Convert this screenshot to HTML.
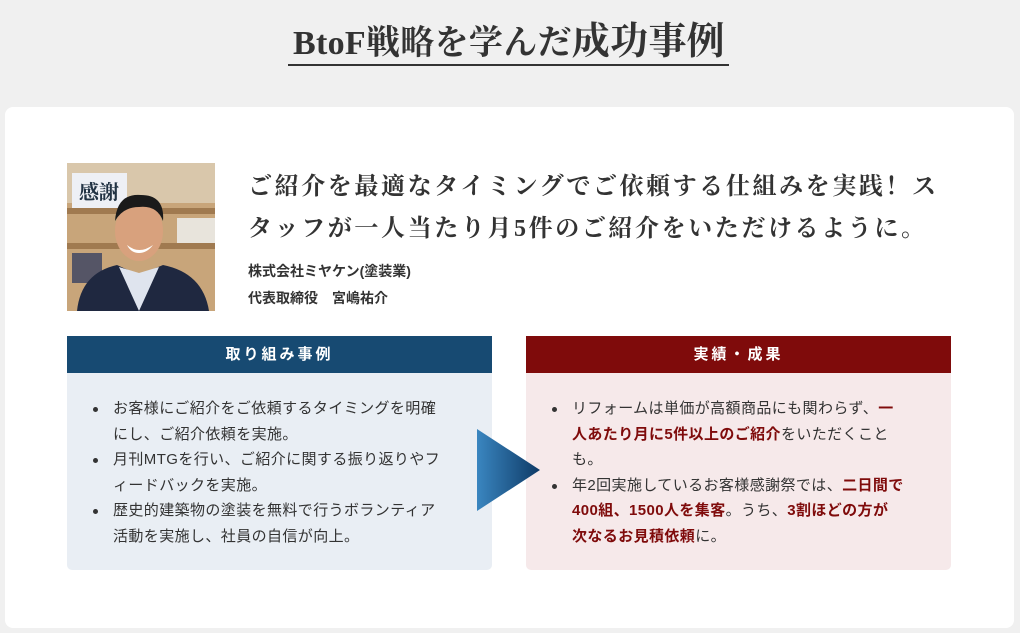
<!DOCTYPE html>
<html><head><meta charset="utf-8"><style>
*{margin:0;padding:0;box-sizing:border-box}
body{width:1020px;height:633px;background:#f0f0f0;position:relative;overflow:hidden;font-family:"Liberation Sans","Noto Sans CJK JP",sans-serif;color:#333}
.title{position:absolute;left:259px;top:10px;width:500px;text-align:center;font-family:"Liberation Serif","Noto Serif CJK SC",serif;font-weight:bold;font-size:34px;color:#333;white-space:nowrap;letter-spacing:0.3px}
.title .big{font-size:38px}
.uline{position:absolute;left:288px;top:64px;width:441px;height:2px;background:#333}
.card{position:absolute;left:5px;top:107px;width:1009px;height:521px;background:#fff;border-radius:8px}
.photo{position:absolute;left:67px;top:163px;width:148px;height:148px;overflow:hidden;background:#c9a77a}
.h{position:absolute;left:248px;top:166px;font-family:"Liberation Serif","Noto Serif CJK SC",serif;font-weight:bold;font-size:24px;line-height:42px;color:#333;white-space:nowrap;letter-spacing:2.6px}
.co{position:absolute;left:248px;top:258px;font-weight:bold;font-size:14px;line-height:27px;color:#333;white-space:nowrap}
.box{position:absolute;top:336px;width:425px;height:234px;border-radius:0 0 5px 5px}
.box .hd{height:37px;line-height:37px;text-align:center;color:#fff;font-weight:bold;font-size:15px;letter-spacing:3px}
.box ul{list-style:none;padding:23px 0 0 46px;font-size:15px;line-height:25.6px;color:#333;letter-spacing:0.4px}
.box li{position:relative;width:342px}
.box li:before{content:"";position:absolute;left:-20px;top:11px;width:5px;height:5px;border-radius:50%;background:#333}
.r{color:#7f0b0b;font-weight:bold}
</style></head><body>
<div class="title">BtoF戦略を学んだ<span class="big">成功事例</span></div>
<div class="uline"></div>
<div class="card"></div>
<div class="photo">
<svg width="148" height="148" viewBox="0 0 148 148">
<rect width="148" height="148" fill="#c8a57a"/>
<rect x="0" y="0" width="148" height="40" fill="#d9c7ab"/>
<rect x="5" y="10" width="55" height="35" fill="#eef0f5"/>
<text x="12" y="36" font-size="20" font-weight="bold" fill="#234" font-family="Noto Serif CJK SC,serif">感謝</text>
<rect x="0" y="45" width="148" height="6" fill="#a07a50"/>
<rect x="0" y="80" width="148" height="6" fill="#a07a50"/>
<rect x="110" y="55" width="38" height="25" fill="#e8e4dc"/>
<rect x="5" y="90" width="30" height="30" fill="#556"/>
<ellipse cx="72" cy="68" rx="24" ry="30" fill="#d8a17d"/>
<path d="M48 58 Q50 30 74 32 Q98 32 96 58 Q90 42 72 44 Q56 44 48 58Z" fill="#1a1a1a"/>
<path d="M60 82 Q72 92 86 82 Q80 90 72 90 Q64 90 60 82Z" fill="#fff"/>
<path d="M10 148 Q14 110 50 102 L72 112 L96 102 Q136 110 142 148Z" fill="#1f2840"/>
<path d="M52 104 L72 148 L92 104 L72 110Z" fill="#dfe4ee"/>
</svg></div>
<div class="h">ご紹介を最適なタイミングでご依頼する仕組みを実践！ス<br>タッフが一人当たり月5件のご紹介をいただけるように。</div>
<div class="co">株式会社ミヤケン(塗装業)<br>代表取締役　宮嶋祐介</div>
<div class="box" style="left:67px;background:#e9eef4">
<div class="hd" style="background:#174a72">取り組み事例</div>
<ul><li>お客様にご紹介をご依頼するタイミングを明確<br>にし、ご紹介依頼を実施。</li><li>月刊MTGを行い、ご紹介に関する振り返りやフ<br>ィードバックを実施。</li><li>歴史的建築物の塗装を無料で行うボランティア<br>活動を実施し、社員の自信が向上。</li></ul>
</div>
<div class="box" style="left:526px;background:#f6e9ea">
<div class="hd" style="background:#7f0b0b">実績・成果</div>
<ul><li>リフォームは単価が高額商品にも関わらず、<span class="r">一<br>人あたり月に5件以上のご紹介</span>をいただくこと<br>も。</li><li>年2回実施しているお客様感謝祭では、<span class="r">二日間で<br>400組、1500人を集客</span>。うち、<span class="r">3割ほどの方が<br>次なるお見積依頼</span>に。</li></ul>
</div>
<svg style="position:absolute;left:477px;top:429px" width="64" height="82"><defs><linearGradient id="g" x1="0" x2="1"><stop offset="0" stop-color="#3a86c0"/><stop offset="1" stop-color="#0e3a66"/></linearGradient></defs><polygon points="0,0 63,41 0,82" fill="url(#g)"/></svg>
</body></html>
